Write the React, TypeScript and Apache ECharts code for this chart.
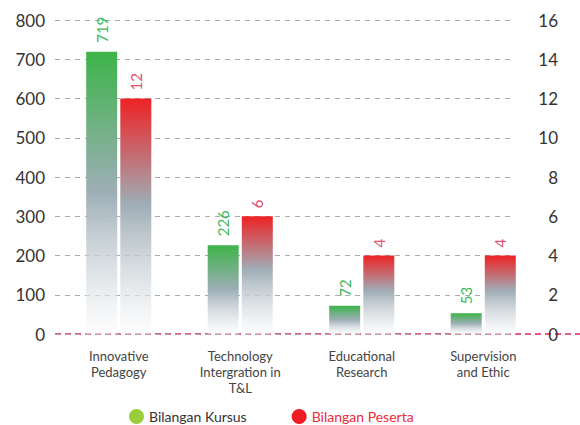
import React, { useEffect, useRef } from "react";
import * as echarts from "echarts";

const categories = [
  "Innovative\nPedagogy",
  "Technology\nIntergration in\nT&L",
  "Educational\nResearch",
  "Supervision\nand Ethic",
];
const kursus = [719, 226, 72, 53];
const peserta = [12, 6, 4, 4];
const leftTicks = { min: 0, max: 800, interval: 100 };
const rightTicks = { min: 0, max: 16, interval: 2 };

const FONT = "Lato";

export default function App() {
  const ref = useRef<HTMLDivElement>(null);
  useEffect(() => {
    document.body.style.margin = "0";
    if (!ref.current) return;
    const chart = echarts.init(ref.current, null, { renderer: "svg" });
    const greenGrad = new echarts.graphic.LinearGradient(0, 0, 0, 1, [
      { offset: 0, color: "#3db449" },
      { offset: 0.5, color: "#9eaeb7" },
      { offset: 1, color: "rgba(252,252,253,0.55)" },
    ]);
    const redGrad = new echarts.graphic.LinearGradient(0, 0, 0, 1, [
      { offset: 0, color: "#ee2224" },
      { offset: 0.45, color: "#9fadb6" },
      { offset: 1, color: "rgba(252,252,253,0.55)" },
    ]);
    chart.setOption({
      animation: false,
      textStyle: { fontFamily: FONT },
      grid: [
        { left: 55, right: 66, top: 20, bottom: 91 },
        { left: 58, right: 36, top: 20, bottom: 91 },
      ],
      legend: {
        left: 129,
        bottom: 1,
        icon: "circle",
        itemWidth: 15,
        itemHeight: 15,
        itemGap: 45,
        padding: 0,
        textStyle: { fontSize: 14, fontFamily: FONT, lineHeight: 15 },
        data: [
          { name: "Bilangan Kursus", itemStyle: { color: "#9acd3a" }, textStyle: { color: "#333" } },
          { name: "Bilangan Peserta", itemStyle: { color: "#ee1c25" }, textStyle: { color: "#ee2a35" } },
        ],
      },
      xAxis: [
        { type: "category", gridIndex: 0, data: categories, show: false },
        {
          type: "category",
          gridIndex: 1,
          data: categories,
          axisLine: { show: false },
          axisTick: { show: false },
          axisLabel: {
            color: "#444",
            fontSize: 13,
            lineHeight: 16,
            margin: 14,
            interval: 0,
            fontFamily: FONT,
          },
        },
      ],
      yAxis: [
        {
          type: "value",
          gridIndex: 0,
          position: "left",
          ...leftTicks,
          axisLine: { show: false },
          axisTick: { show: false },
          axisLabel: { color: "#333", fontSize: 17, margin: 10, fontFamily: FONT },
          splitLine: { lineStyle: { color: "#aaaaaa", type: [5, 5], width: 1 } },
        },
        {
          type: "value",
          gridIndex: 0,
          position: "right",
          ...rightTicks,
          axisLine: { show: false },
          axisTick: { show: false },
          axisLabel: { color: "#333", fontSize: 17, margin: 44, align: "right", fontFamily: FONT },
          splitLine: { show: false },
        },
        { type: "value", gridIndex: 1, ...leftTicks, show: false, splitLine: { show: false } },
        { type: "value", gridIndex: 1, position: "right", ...rightTicks, show: false, splitLine: { show: false } },
      ],
      graphic: [
        {
          type: "line",
          z: 0,
          shape: { x1: 55, y1: 334, x2: 580, y2: 334 },
          style: { stroke: "#d8265a", lineWidth: 1.5, lineDash: [6, 4] },
        },
      ],
      series: [
        {
          name: "Bilangan Kursus",
          type: "bar",
          xAxisIndex: 1,
          yAxisIndex: 2,
          barWidth: 31,
          barGap: "10%",
          data: kursus,
          itemStyle: { color: greenGrad },
          label: {
            show: true,
            position: "top",
            rotate: 90,
            align: "left",
            verticalAlign: "middle",
            distance: 9,
            color: "#3dba5c",
            fontSize: 15,
            fontFamily: FONT,
          },
        },
        {
          name: "Bilangan Peserta",
          type: "bar",
          xAxisIndex: 1,
          yAxisIndex: 3,
          barWidth: 31,
          barGap: "10%",
          data: peserta,
          itemStyle: { color: redGrad },
          label: {
            show: true,
            position: "top",
            rotate: 90,
            align: "left",
            verticalAlign: "middle",
            distance: 8,
            color: "#e0506e",
            fontSize: 15,
            fontFamily: FONT,
          },
        },
      ],
    });
    return () => chart.dispose();
  }, []);
  return <div ref={ref} style={{ width: 580, height: 425 }} />;
}
